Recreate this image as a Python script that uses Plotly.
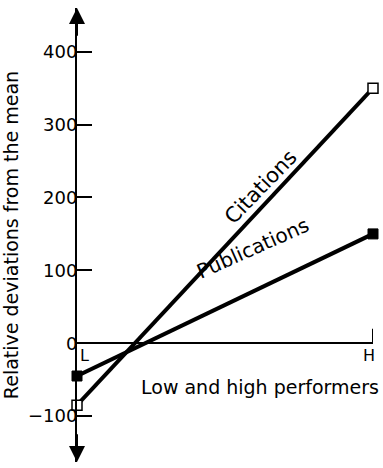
import plotly.graph_objects as go

groups = ["L", "H"]
group_x = [0, 1]
citations = [-85, 350]
publications = [-45, 150]
y_ticks = [-100, 0, 100, 200, 300, 400]

FONT = "DejaVu Sans"
fig = go.Figure()

fig.add_trace(go.Scatter(
    x=group_x, y=citations, mode="lines+markers", name="Citations",
    line=dict(color="black", width=4),
    marker=dict(symbol="square", size=10, color="white", line=dict(color="black", width=1.5)),
    cliponaxis=False, showlegend=False))
fig.add_trace(go.Scatter(
    x=group_x, y=publications, mode="lines+markers", name="Publications",
    line=dict(color="black", width=4),
    marker=dict(symbol="square", size=10, color="black", line=dict(color="black", width=1)),
    cliponaxis=False, showlegend=False))

# H tick
fig.add_shape(type="line", x0=1, x1=1, y0=0, y1=20, xref="x", yref="y",
              line=dict(color="black", width=2))

# arrowheads on y axis
for y_tip, y_tail in [(460, 420), (-163, -123)]:
    fig.add_annotation(x=0, y=y_tip, ax=0, ay=y_tail, xref="x", yref="y", axref="x", ayref="y",
                       showarrow=True, arrowhead=2, arrowsize=1.6, arrowwidth=2, arrowcolor="black", text="")

for gx, g in zip(group_x, groups):
    fig.add_annotation(x=gx, y=0, text=g, showarrow=False, xanchor="left" if gx == 0 else "right",
                       yanchor="top", xshift=1 if gx == 0 else 4, yshift=-1,
                       font=dict(family=FONT, size=16, color="black"))

fig.add_annotation(xref="paper", yref="y", x=1, y=-42, text="Low and high performers", showarrow=False,
                   xanchor="right", yanchor="top", xshift=8, font=dict(family=FONT, size=19, color="black"))

fig.add_annotation(x=0.62, y=215, text="Citations", showarrow=False, textangle=-46,
                   font=dict(family=FONT, size=21, color="black"))
fig.add_annotation(x=0.595, y=130, text="Publications", showarrow=False, textangle=-24,
                   font=dict(family=FONT, size=20, color="black"))

fig.update_layout(
    width=383, height=468,
    margin=dict(l=77, r=10, t=8, b=6, autoexpand=False),
    plot_bgcolor="white", paper_bgcolor="white",
    xaxis=dict(range=[0, 1], visible=False, showgrid=False),
    yaxis=dict(range=[-163, 460], tickvals=y_ticks, ticks="inside", ticklen=15, tickwidth=1.5,
               tickcolor="black", showline=True, linecolor="black", linewidth=2,
               showgrid=False, zeroline=True, zerolinecolor="black", zerolinewidth=2,
               tickfont=dict(family=FONT, size=18, color="black"), automargin=False,
               ticklabelstandoff=-6,
               title=dict(text="Relative deviations from the mean", standoff=8,
                          font=dict(family=FONT, size=19, color="black"))),
)

fig.write_html("out.html", config={"displayModeBar": False},
               post_script="document.body.style.margin='0';")
